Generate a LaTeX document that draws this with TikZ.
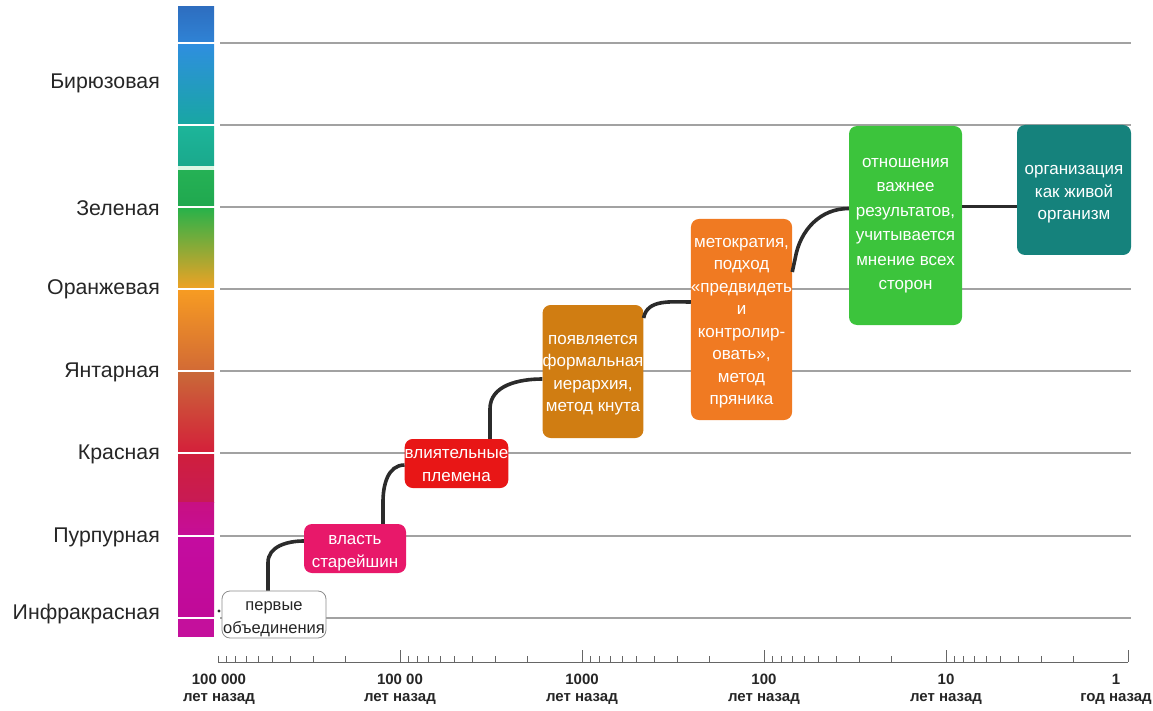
\documentclass[tikz,border=0pt]{standalone}
\usepackage{fontspec}
\setmainfont{Liberation Sans}
\newcommand{\lowtext}[2]{\raisebox{-#1}[\height][\depth]{\begin{tabular}{@{}c@{}}#2\end{tabular}}}
\definecolor{grid}{HTML}{A2A2A2}
\definecolor{conn}{HTML}{2B2B2B}
\definecolor{cpink}{HTML}{E8186A}
\definecolor{cred}{HTML}{E81616}
\definecolor{cbrown}{HTML}{D07D12}
\definecolor{corange}{HTML}{F07A22}
\definecolor{cgreen}{HTML}{3CC43C}
\definecolor{cteal}{HTML}{15827C}
\definecolor{s1a}{HTML}{2E6EC0}\definecolor{s1b}{HTML}{2F83D5}
\definecolor{s2a}{HTML}{2F8EE0}\definecolor{s2b}{HTML}{18A7A2}
\definecolor{s3a}{HTML}{1DB59A}\definecolor{s3b}{HTML}{1AA98C}
\definecolor{s3c}{HTML}{DCF6E4}
\definecolor{s4a}{HTML}{25B155}\definecolor{s4b}{HTML}{20A84F}
\definecolor{s5a}{HTML}{26B24A}\definecolor{s5m}{HTML}{A0B030}\definecolor{s5b}{HTML}{F0A224}
\definecolor{s6a}{HTML}{F79C22}\definecolor{s6b}{HTML}{D26A35}
\definecolor{s7a}{HTML}{C96A38}\definecolor{s7m}{HTML}{D44A30}\definecolor{s7b}{HTML}{D41F3A}
\definecolor{s8a}{HTML}{CF1F3C}\definecolor{s8b}{HTML}{C81A55}
\definecolor{s9a}{HTML}{C81082}\definecolor{s9b}{HTML}{C60E96}
\definecolor{s10a}{HTML}{C40CA0}\definecolor{s10b}{HTML}{C00A98}
\definecolor{s11}{HTML}{C4109C}
\begin{document}
\begin{tikzpicture}[x=1pt,y=-1pt,
  gridline/.style={draw=grid,line width=1.4pt},
  lvl/.style={anchor=east,inner sep=0pt,font=\fontsize{21.3}{24}\selectfont,text=black!85},
  box/.style={rounded corners=8pt,inner sep=0pt,align=center,text=white,
    font=\fontsize{17}{22.5}\selectfont},
  conline/.style={draw=conn,line width=3.6pt},
  tickmark/.style={draw=black!60,line width=0.9pt},
  axlabel/.style={align=center,inner sep=0pt,font=\bfseries\fontsize{15}{17}\selectfont,text=black!85}]
\useasboundingbox (0,0) rectangle (1153,711);
% colour bar
\shade[top color=s1a,bottom color=s1b] (178,7) rectangle (214,43);
\shade[top color=s2a,bottom color=s2b] (178,43) rectangle (214,125);
\shade[top color=s3a,bottom color=s3b] (178,125) rectangle (214,166);
\fill[s3c] (178,166) rectangle (214,171);
\shade[top color=s4a,bottom color=s4b] (178,171) rectangle (214,207);
\shade[top color=s5a,middle color=s5m,bottom color=s5b] (178,207) rectangle (214,289);
\shade[top color=s6a,bottom color=s6b] (178,289) rectangle (214,371);
\shade[top color=s7a,middle color=s7m,bottom color=s7b] (178,371) rectangle (214,453);
\shade[top color=s8a,bottom color=s8b] (178,453) rectangle (214,502);
\shade[top color=s9a,bottom color=s9b] (178,502) rectangle (214,536);
\shade[top color=s10a,bottom color=s10b] (178,536) rectangle (214,618);
\fill[s11] (178,618) rectangle (214,637);
\foreach \yy in {43,125,207,289,371,453,536,618}
  \draw[white,line width=2.4pt] (177,\yy) -- (215,\yy);
% grid lines
\foreach \yy in {43,125,207,289,371,453,536,618}
  \draw[gridline] (220,\yy) -- (1131,\yy);
% level labels
\node[lvl] (l1) at (160,83) {Бирюзовая};
\node[lvl] (l2) at (160,208) {Зеленая};
\node[lvl] (l3) at (160,289) {Оранжевая};
\node[lvl] (l4) at (160,372) {Янтарная};
\node[lvl] (l5) at (160,454) {Красная};
\node[lvl] (l6) at (160,537) {Пурпурная};
\node[lvl] (l7) at (160,614) {Инфракрасная};
% boxes
\node[box,fill=white,draw=black!45,line width=0.8pt,text=black!85,minimum width=104pt,minimum height=47pt,font=\fontsize{16.5}{23}\selectfont] (b1) at (274,614.5) {\lowtext{3pt}{первые\\объединения}};
\node[box,fill=cpink,minimum width=102pt,minimum height=49pt] (b2) at (355,548.5) {\lowtext{3pt}{власть\\старейшин}};
\node[box,fill=cred,minimum width=103pt,minimum height=49pt] (b3) at (456.5,463.5) {\lowtext{2pt}{влиятельные\\племена}};
\node[box,fill=cbrown,minimum width=100pt,minimum height=133pt] (b4) at (593,371.5) {\lowtext{2pt}{появляется\\формальная\\иерархия,\\метод кнута}};
\node[box,fill=corange,minimum width=97pt,minimum height=201pt] (b5) at (741.5,319.5) {\lowtext{2pt}{метократия,\\подход\\«предвидеть\\и\\контролир-\\овать»,\\метод\\пряника}};
\node[box,fill=cgreen,minimum width=113pt,minimum height=199pt,font=\fontsize{17}{24.5}\selectfont] (b6) at (905.5,225.5) {\lowtext{-2pt}{отношения\\важнее\\результатов,\\учитывается\\мнение всех\\сторон}};
\node[box,fill=cteal,minimum width=114pt,minimum height=130pt] (b7) at (1074,190) {\lowtext{3pt}{организация\\как живой\\организм}};
% connectors
\fill[conn] (219,611) circle (1.6);
\draw[conline] ([xshift=-6pt]b1.north) -- ++(0,-28) to[out=90,in=180] ([yshift=7.5pt]b2.west);
\draw[conline] ([xshift=28pt]b2.north) -- ++(0,-22) to[out=90,in=180] ([yshift=-1.5pt]b3.west);
\draw[conline] ([xshift=33.5pt]b3.north) -- ++(0,-30) to[out=90,in=180] ([yshift=-7.5pt]b4.west);
\draw[conline] ([yshift=53.5pt]b4.east) to[out=80,in=180] ([yshift=17.5pt]b5.west);
\draw[conline] ([yshift=47.5pt]b5.east) -- ++(3,-14) to[out=80,in=180] ([yshift=17pt]b6.west);
\draw[conline] ([yshift=19pt]b6.east) -- ([yshift=19pt]b6.east -| b7.west);
% time axis
\draw[tickmark] (218,662) -- (1128,662);
\foreach \i in {0,...,4}{
  \pgfmathsetmacro\M{400+182*\i}
  \draw[tickmark] (\M,650) -- (\M,662);
  \foreach \k in {2,...,10}{
    \pgfmathsetmacro\xx{\M-182*log10(\k)}
    \draw[tickmark] (\xx,656) -- (\xx,662);
  }
}
\node[axlabel] (a1) at (219,689) {100 000\\лет назад};
\node[axlabel] (a2) at (400,689) {100 00\\лет назад};
\node[axlabel] (a3) at (582,689) {1000\\лет назад};
\node[axlabel] (a4) at (764,689) {100\\лет назад};
\node[axlabel] (a5) at (946,689) {10\\лет назад};
\node[axlabel] (a6) at (1116,689) {1\\год назад};
\end{tikzpicture}
\end{document}
